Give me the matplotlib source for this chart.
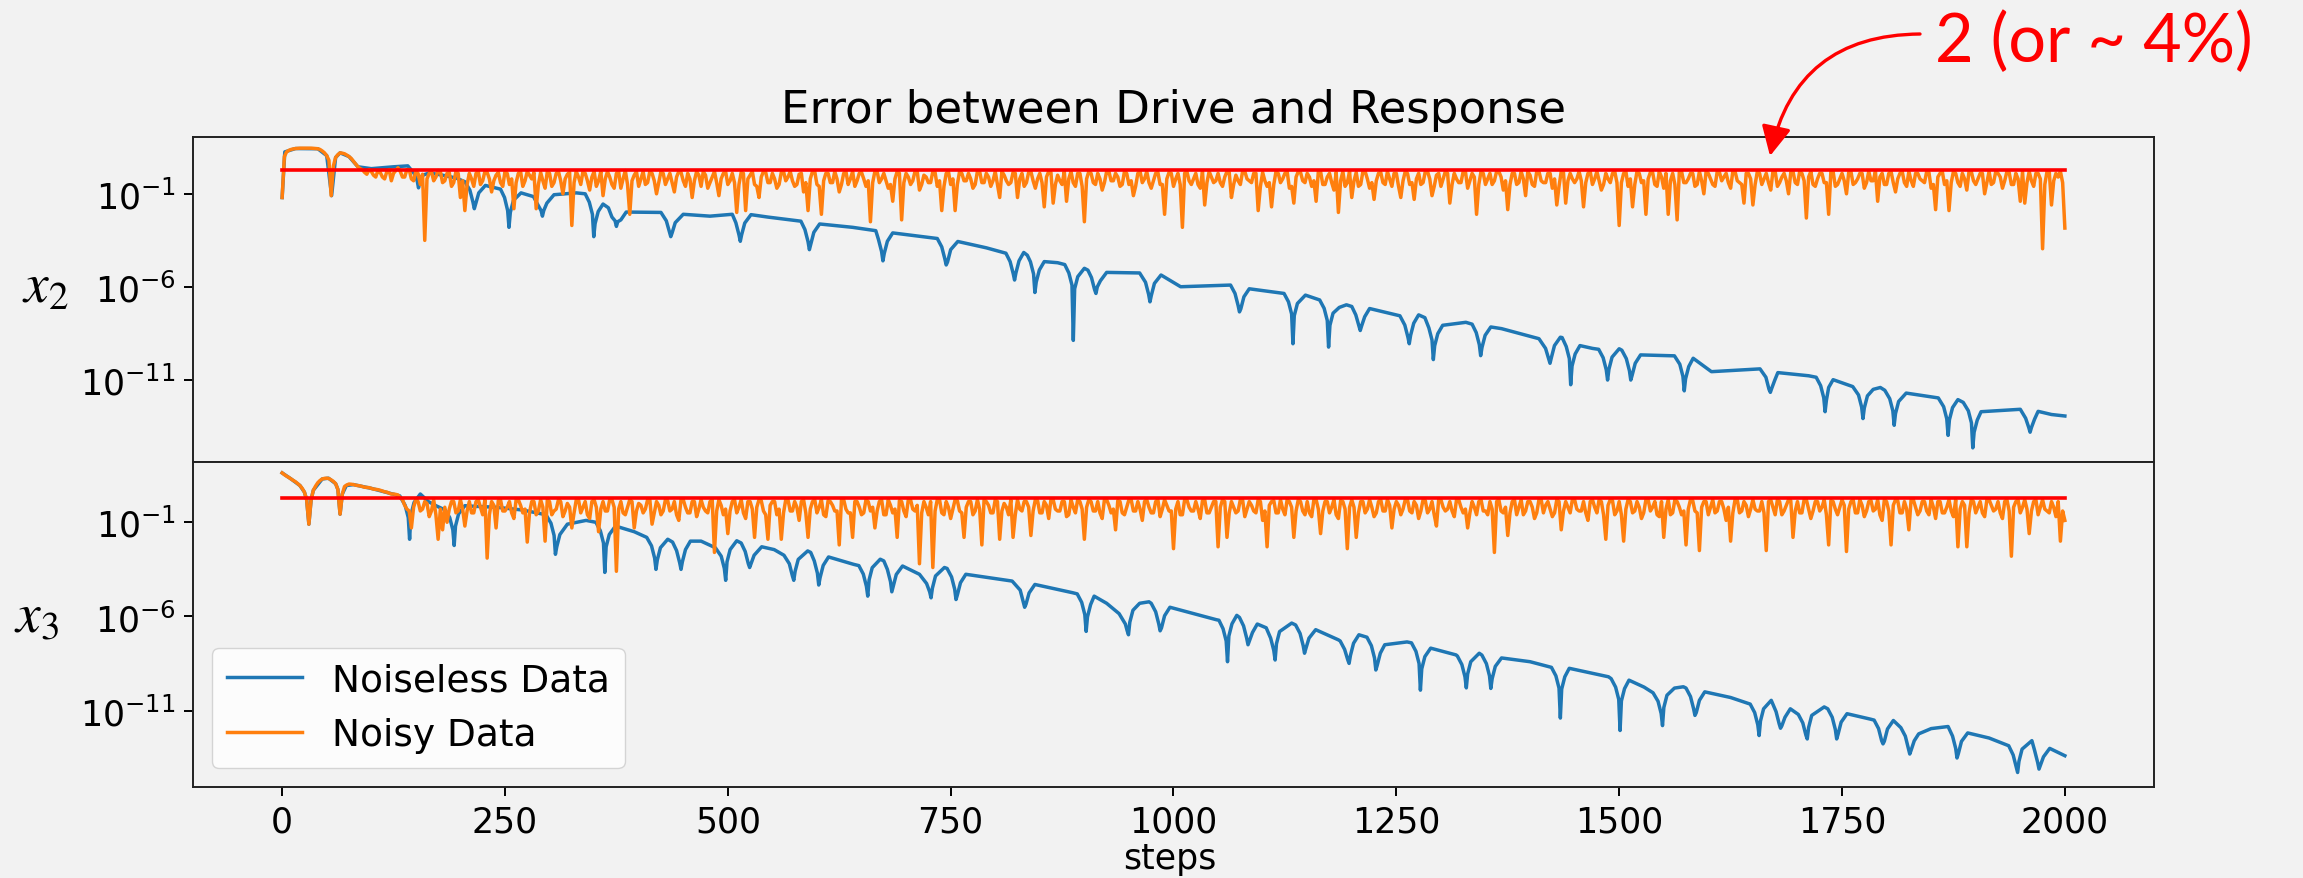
import numpy as np
import matplotlib
matplotlib.use("Agg")
import matplotlib.pyplot as plt
from matplotlib.patches import FancyArrowPatch

# ---- data (log10 of the error) ----
# noisy runs: one value every 5 steps (0, 5, ..., 2000)
noisy_x2_log = [
    -1.2, 1.25, 1.38, 1.43, 1.45, 1.45, 1.45, 1.44, 1.42, 1.3, 1.05, -1.1, 0.95, 1.2,
    1.15, 1.0, 0.75, 0.45, 0.3, 0.05, 0.2, -0.1, 0.15, -0.2, 0.3, 0.1, 0.4,
    -0.1, 0.3, -0.2, 0.2, -0.5, -3.5, 0.1, -0.3, 0.25, -0.4, 0.1, -0.6, 0.2, -1.2,
    -1.9, 0.1, -0.6, 0.2, -0.3, 0.15, -0.9, 0.0, -0.4, 0.2,
    -0.5, -1.8, 0.1, -0.6, 0.2, -0.2, -1.8, 0.15, -0.7, 0.1,
    -0.4, 0.2, -1.0, 0.05, -2.7, 0.2, -0.5, 0.1, -0.8, 0.2,
    -0.3, -1.1, 0.2, -0.5, 0.1, -0.7, 0.25, -2.1, 0.0, -0.6,
    0.2, -0.4, 0.1, -1.0, 0.2, -0.5, 0.1, -0.9, 0.2, -0.3,
    0.1, -1.2, 0.2, -0.6, 0.0, -0.4, 0.2, -1.1, 0.1, -0.5,
    0.1, -2.0, 0.15, -1.9, 0.0, -0.5, -1.2, 0.2, -0.4, 0.1,
    -0.7, 0.15, -0.3, 0.2, -0.6, 0.05, -0.9, -1.9, 0.2, -0.5,
    -2.1, 0.1, -0.4, 0.2, -0.9, 0.1, -0.5, 0.2, -0.3, 0.15,
    -0.6, -2.5, 0.2, -0.4, 0.1, -0.7, -1.4, 0.2, -2.4, 0.1,
    -0.5, 0.2, -0.8, 0.0, -0.4, 0.2, -0.6, -1.9, 0.1, -0.5,
    -1.9, 0.2, -0.3, 0.1, -0.7, 0.2, -0.4, 0.1, -0.6, 0.2,
    -1.2, 0.0, -0.5, 0.15, -1.2, 0.1, -0.4, 0.2, -0.7, 0.1,
    -1.7, 0.2, -1.5, 0.0, -0.5, -1.4, 0.2, -0.6, 0.1, -2.5,
    0.2, -0.4, 0.1, -0.8, 0.2, -0.3, 0.1, -0.6, 0.2, -0.5,
    -1.1, 0.1, -0.4, 0.2, -0.7, 0.1, -0.5, -2.1, 0.15, -0.6,
    0.1, -2.8, 0.2, -0.5, 0.1, -0.7, -1.6, 0.2, -0.4, 0.1,
    -0.6, 0.2, -1.2, 0.0, -0.5, 0.2, -0.3, 0.1, -1.9, 0.15,
    -0.6, -1.7, 0.2, -0.4, 0.1, -0.7, -1.5, 0.2, -0.3, 0.1,
    -0.6, -1.4, 0.2, -0.5, 0.1, -0.8, -2.0, 0.2, -0.4, -1.2,
    0.15, -0.5, 0.2, -0.7, -1.3, 0.1, -0.4, 0.2, -0.6, 0.1,
    -1.2, 0.2, -0.5, -1.3, 0.1, -0.4, 0.2, -1.1, 0.0, -0.6,
    0.2, -1.5, 0.1, -0.4, 0.2, -0.7, 0.1, -2.1, 0.2, -0.5,
    0.1, -0.3, 0.2, -0.8, -1.85, 0.1, -0.5, 0.2, -1.1, 0.0,
    -0.6, 0.2, -0.4, 0.1, -0.7, -1.6, 0.2, -1.5, 0.1, -0.4,
    0.2, -1.7, 0.1, -0.5, 0.2, -0.8, 0.1, -0.4, 0.2, -2.7,
    0.1, -0.6, -1.7, 0.2, -0.4, -2.1, 0.15, -0.5, 0.2, -0.7,
    -2.1, 0.1, -2.4, 0.2, -0.4, 0.1, -0.6, 0.2, -1.0, 0.1,
    -0.5, 0.2, -0.3, 0.1, -0.7, 0.2, -0.4, -1.5, 0.1, -1.6,
    0.2, -0.5, 0.1, -0.8, 0.2, -0.4, 0.1, -1.0, 0.2, -0.5,
    0.1, -2.3, 0.2, -0.6, 0.1, -0.4, -2.1, 0.2, -0.5, 0.1,
    -1.0, 0.2, -0.4, 0.1, -0.7, 0.2, -0.3, -1.4, 0.1, -0.5,
    0.2, -0.9, 0.1, -0.4, 0.2, -0.6, 0.1, -0.3, 0.2, -0.7,
    -1.85, 0.1, -0.5, -1.9, 0.2, -0.4, 0.1, -0.8, 0.2, -0.5,
    0.1, -1.0, 0.2, -0.4, 0.1, -0.7, 0.2, -0.5, 0.1, -1.4,
    -1.5, 0.2, -0.6, 0.1, -3.95, 0.2, -1.6, 0.1, 0.2, -2.84,
]
# values half way between (2.5, 7.5, ..., 1997.5)
noisy_x2_mid_log = [
    1.0, 1.33, 1.41, 1.44, 1.45, 1.45, 1.45, 1.43, 1.38, 1.2, 0.8, 0.5, 1.1,
    1.18, 1.08, 0.9, 0.6, 0.35, 0.15, 0.3, 0.0, 0.25, -0.1, 0.2, -0.3, 0.25,
    0.2, -0.1, 0.3, -0.3, 0.1, 0.05, -0.2, 0.2, -0.1, 0.2, -0.3, 0.15, -0.4, 0.1,
    -0.3, -0.5, -0.2, 0.1, -0.5, 0.2, -0.2, -0.3, 0.15, -0.6,
    0.1, -0.2, -0.4, 0.2, -0.3, 0.0, 0.15, -0.5, -0.3, 0.2,
    -0.6, 0.1, -0.3, -0.2, 0.15, -0.4, -0.1, 0.2, -0.3, -0.1,
    -0.6, 0.2, -0.2, -0.1, -0.7, 0.2, -0.2, -0.5, -0.3, 0.2,
    -0.2, -0.5, 0.2, -0.3, -0.4, 0.1, -0.2, -0.4, -0.1, 0.15,
    -0.6, -0.2, -0.3, 0.0, 0.2, -0.7, -0.1, -0.4, -0.2, 0.2,
    -0.3, -0.4, -0.5, 0.1, -0.2, 0.2, -0.6, -0.1, 0.15, -0.4,
    -0.2, -0.5, 0.2, -0.1, -0.3, -0.5, 0.1, -0.4, -0.2, 0.2,
    -0.6, -0.3, 0.1, -0.4, -0.2, -0.5, 0.2, -0.2, -0.6, 0.1,
    -0.2, -0.3, -0.4, 0.2, -0.2, -0.3, -0.5, -0.2, 0.1, -0.4,
    -0.1, -0.3, 0.2, -0.5, -0.1, -0.4, 0.15, -0.3, -0.6, 0.2,
    -0.2, -0.5, 0.1, -0.3, -0.2, -0.5, 0.2, -0.4, -0.1, -0.3,
    -0.5, 0.2, -0.3, -0.4, 0.1, -0.2, -0.6, 0.15, -0.3, -0.2,
    -0.4, -0.1, 0.15, -0.5, -0.3, 0.2, -0.2, -0.4, 0.1, -0.6,
    -0.2, 0.1, -0.5, -0.2, -0.4, 0.2, -0.3, -0.1, -0.5, 0.1,
    -0.3, -0.6, 0.2, -0.2, -0.4, -0.3, 0.15, -0.5, -0.2, 0.1,
    -0.2, -0.5, 0.1, -0.3, -0.2, -0.5, 0.2, -0.4, -0.1, -0.3,
    -0.4, -0.1, 0.15, -0.5, -0.3, 0.2, -0.2, -0.4, 0.1, -0.6,
    -0.3, -0.4, -0.5, 0.1, -0.2, 0.2, -0.6, -0.1, 0.15, -0.4,
    -0.1, -0.3, 0.2, -0.5, -0.1, -0.4, 0.15, -0.3, -0.6, 0.2,
    -0.3, -0.6, 0.2, -0.2, -0.4, -0.3, 0.15, -0.5, -0.2, 0.1,
    -0.6, -0.3, 0.1, -0.4, -0.2, -0.5, 0.2, -0.2, -0.6, 0.1,
    -0.2, 0.1, -0.5, -0.2, -0.4, 0.2, -0.3, -0.1, -0.5, 0.1,
    -0.2, -0.5, 0.2, -0.1, -0.3, -0.5, 0.1, -0.4, -0.2, 0.2,
    -0.5, 0.2, -0.3, -0.4, 0.1, -0.2, -0.6, 0.15, -0.3, -0.2,
    -0.2, -0.3, -0.4, 0.2, -0.2, -0.3, -0.5, -0.2, 0.1, -0.4,
    -0.4, 0.2, -0.2, -0.5, 0.1, -0.3, -0.2, 0.15, -0.6, -0.1,
    0.1, -0.3, -0.5, 0.2, -0.4, -0.2, 0.1, -0.5, -0.3, 0.2,
    -0.2, -0.6, 0.15, -0.1, -0.4, 0.2, -0.3, -0.5, 0.1, -0.2,
    -0.5, 0.1, -0.2, -0.4, 0.2, -0.6, -0.1, -0.3, 0.15, -0.4,
    0.2, -0.3, -0.1, -0.5, -0.2, 0.1, -0.4, 0.2, -0.6, -0.2,
    -0.3, 0.15, -0.5, -0.2, 0.1, -0.4, -0.3, 0.2, -0.1, -0.5,
    0.1, -0.4, -0.2, 0.2, -0.6, -0.3, 0.1, -0.2, -0.4, 0.15,
    -0.5, -0.1, 0.2, -0.3, -0.4, 0.1, -0.6, -0.2, 0.2, -0.3,
    -0.2, 0.1, -0.4, -0.5, 0.2, -0.1, -0.3, 0.15, -0.5, -0.2,
    0.2, -0.4, -0.3, 0.1, -0.2, -0.5, 0.2, -0.3, -0.1, -0.4,
]

noisy_x3_log = [
    1.62, 1.45, 1.3, 1.15, 0.95, 0.6, -1.1, 0.7, 1.1, 1.3, 1.34, 1.25, 1.05, -0.57,
    0.9, 1.03, 1.0, 0.95, 0.9, 0.85, 0.8, 0.75, 0.7, 0.62, 0.55, 0.5, 0.45,
    0.2, -0.3, -1.3, 0.2, -0.4, 0.1, -0.7, 0.2, -1.9, -1.4, -1.0, 0.1, -0.5, 0.2,
    -1.2, 0.1, -0.5, 0.2, -0.6, -2.9, 0.1, -1.3, 0.2, -0.4,
    0.1, -0.8, 0.2, -0.5, -2.05, 0.1, -0.6, 0.2, -2.0, 0.1,
    -0.4, 0.2, -0.7, 0.0, -1.3, 0.2, -0.5, 0.1, -0.8, 0.2,
    -1.5, 0.1, -0.4, 0.2, -3.6, 0.1, -0.6, 0.2, -1.3, 0.0,
    -0.5, 0.2, -1.1, 0.1, -0.6, 0.2, -0.4, 0.1, -0.9, 0.2,
    -0.5, 0.1, -0.7, 0.2, -0.4, 0.1, -2.6, 0.2, -0.6, -1.6,
    0.1, -0.5, 0.2, -0.8, 0.1, -1.8, 0.2, -0.4, -1.9, 0.1,
    -0.6, -1.9, 0.2, -0.4, 0.1, -0.9, 0.2, -1.8, 0.1, -0.5,
    0.2, -0.7, 0.1, -0.4, -2.2, 0.2, -0.5, -1.8, 0.1, -0.6,
    0.2, -0.4, -1.3, 0.1, -0.6, 0.2, -0.5, -1.8, 0.1, -0.7,
    0.2, -0.4, -3.2, 0.1, -0.6, -3.4, 0.2, -0.5, 0.1, -0.8,
    0.2, -0.4, -1.8, 0.1, -0.6, 0.2, -2.2, 0.1, -0.5, 0.2,
    -1.9, 0.0, -0.6, -1.8, 0.2, -0.4, 0.1, -1.7, 0.2, -0.5,
    0.1, -0.8, 0.2, -0.4, 0.1, -0.7, 0.2, -0.5, 0.1, -1.9,
    0.2, -0.4, 0.1, -0.8, 0.2, -0.5, -1.4, 0.1, -0.6, 0.2,
    -0.4, 0.1, -0.9, 0.2, -0.5, 0.1, -0.7, 0.2, -0.4, -2.4,
    0.1, -0.6, 0.2, -0.4, 0.1, -0.8, 0.2, -0.5, 0.1, -2.3,
    0.2, -1.8, 0.1, -0.5, 0.2, -0.7, 0.1, -0.4, 0.2, -0.9,
    -2.3, 0.1, -0.5, 0.2, -0.6, 0.1, -1.8, 0.2, -0.4, 0.1,
    -0.7, 0.2, -1.6, 0.1, -0.5, 0.2, -0.8, 0.1, -2.4, 0.2,
    -1.8, 0.1, -0.5, 0.2, -0.7, 0.1, -0.4, 0.2, -1.3, 0.1,
    -0.6, 0.2, -0.4, 0.1, -0.8, 0.2, -0.5, 0.1, -1.2, 0.2,
    -0.4, 0.1, -0.7, 0.2, -0.5, -1.3, 0.1, -0.6, 0.2, -0.4,
    0.1, -2.6, 0.2, -0.5, -1.7, 0.1, -0.6, 0.2, -0.4, 0.1,
    -0.8, 0.2, -0.5, 0.1, -0.7, 0.2, -1.4, 0.1, -0.5, 0.2,
    -0.4, 0.1, -0.9, 0.2, -0.5, 0.1, -1.9, 0.2, -0.6, 0.1,
    -2.0, 0.2, -0.5, 0.1, -0.8, 0.2, -0.4, 0.1, -0.7, -1.8,
    0.2, -0.5, 0.1, -0.6, -2.2, 0.2, -0.4, -2.5, 0.1, -0.6,
    0.2, -0.4, 0.1, -0.9, -2.0, 0.2, -0.5, 0.1, -0.7, 0.2,
    -0.4, 0.1, -2.5, 0.2, -0.6, 0.1, -0.4, 0.2, -1.8, 0.1,
    -0.5, 0.2, -0.8, 0.1, -0.4, 0.2, -2.2, 0.1, -0.6, 0.2,
    -2.55, 0.1, -0.5, 0.2, -0.7, 0.1, -0.4, 0.2, -0.9, 0.1,
    -2.2, 0.2, -0.5, 0.1, -1.4, 0.2, -0.6, 0.1, -0.4, 0.2,
    -0.8, 0.1, -0.5, 0.2, -0.7, -2.3, 0.1, -2.3, 0.2, -0.5,
    0.1, -0.7, 0.2, -0.4, 0.1, -0.8, 0.2, -2.8, 0.1, -0.5,
    0.2, -1.6, 0.1, -0.6, 0.2, -0.4, 0.1, -0.7, -2.0, -0.9,
]
noisy_x3_mid_log = [
    1.53, 1.38, 1.22, 1.05, 0.8, 0.2, 0.2, 0.92, 1.22, 1.33, 1.32, 1.17, 0.75,
    0.5, 0.98, 1.02, 0.97, 0.93, 0.86, 0.84, 0.76, 0.73, 0.66, 0.6, 0.5, 0.48,
    0.3, -0.1, -0.4, -0.2, 0.1, -0.3, 0.0, -0.4, -0.6, -0.3, -0.2, -0.3, 0.1, -0.4,
    -0.3, -0.4, -0.5, 0.1, -0.2, 0.2, -0.6, -0.1, 0.15, -0.4,
    -0.2, -0.5, 0.2, -0.1, -0.3, -0.5, 0.1, -0.4, -0.2, 0.2,
    -0.6, -0.3, 0.1, -0.4, -0.2, -0.5, 0.2, -0.2, -0.6, 0.1,
    -0.2, -0.3, -0.4, 0.2, -0.2, -0.3, -0.5, -0.2, 0.1, -0.4,
    -0.1, -0.3, 0.2, -0.5, -0.1, -0.4, 0.15, -0.3, -0.6, 0.2,
    -0.2, -0.5, 0.1, -0.3, -0.2, -0.5, 0.2, -0.4, -0.1, -0.3,
    -0.4, 0.2, -0.2, -0.5, 0.1, -0.3, -0.2, 0.15, -0.6, -0.1,
    0.1, -0.3, -0.5, 0.2, -0.4, -0.2, 0.1, -0.5, -0.3, 0.2,
    -0.2, -0.6, 0.15, -0.1, -0.4, 0.2, -0.3, -0.5, 0.1, -0.2,
    -0.5, 0.1, -0.2, -0.4, 0.2, -0.6, -0.1, -0.3, 0.15, -0.4,
    0.2, -0.3, -0.1, -0.5, -0.2, 0.1, -0.4, 0.2, -0.6, -0.2,
    -0.3, 0.15, -0.5, -0.2, 0.1, -0.4, -0.3, 0.2, -0.1, -0.5,
    0.1, -0.4, -0.2, 0.2, -0.6, -0.3, 0.1, -0.2, -0.4, 0.15,
    -0.5, -0.1, 0.2, -0.3, -0.4, 0.1, -0.6, -0.2, 0.2, -0.3,
    -0.2, 0.1, -0.4, -0.5, 0.2, -0.1, -0.3, 0.15, -0.5, -0.2,
    0.2, -0.4, -0.3, 0.1, -0.2, -0.5, 0.2, -0.3, -0.1, -0.4,
    -0.3, -0.6, 0.2, -0.2, -0.4, -0.3, 0.15, -0.5, -0.2, 0.1,
    -0.2, 0.1, -0.5, -0.2, -0.4, 0.2, -0.3, -0.1, -0.5, 0.1,
    -0.4, -0.1, 0.15, -0.5, -0.3, 0.2, -0.2, -0.4, 0.1, -0.6,
    -0.5, 0.2, -0.3, -0.4, 0.1, -0.2, -0.6, 0.15, -0.3, -0.2,
    -0.2, -0.5, 0.1, -0.3, -0.2, -0.5, 0.2, -0.4, -0.1, -0.3,
    -0.1, -0.3, 0.2, -0.5, -0.1, -0.4, 0.15, -0.3, -0.6, 0.2,
    -0.2, -0.3, -0.4, 0.2, -0.2, -0.3, -0.5, -0.2, 0.1, -0.4,
    -0.6, -0.3, 0.1, -0.4, -0.2, -0.5, 0.2, -0.2, -0.6, 0.1,
    -0.2, -0.5, 0.2, -0.1, -0.3, -0.5, 0.1, -0.4, -0.2, 0.2,
    -0.3, -0.4, -0.5, 0.1, -0.2, 0.2, -0.6, -0.1, 0.15, -0.4,
    -0.6, -0.3, 0.1, -0.4, -0.2, -0.5, 0.2, -0.2, -0.6, 0.1,
    -0.3, -0.6, 0.2, -0.2, -0.4, -0.3, 0.15, -0.5, -0.2, 0.1,
    -0.2, -0.5, 0.1, -0.3, -0.2, -0.5, 0.2, -0.4, -0.1, -0.3,
    -0.3, -0.4, -0.5, 0.1, -0.2, 0.2, -0.6, -0.1, 0.15, -0.4,
    -0.5, 0.2, -0.3, -0.4, 0.1, -0.2, -0.6, 0.15, -0.3, -0.2,
    -0.1, -0.3, 0.2, -0.5, -0.1, -0.4, 0.15, -0.3, -0.6, 0.2,
    -0.4, -0.1, 0.15, -0.5, -0.3, 0.2, -0.2, -0.4, 0.1, -0.6,
    -0.2, 0.1, -0.5, -0.2, -0.4, 0.2, -0.3, -0.1, -0.5, 0.1,
    -0.2, -0.5, 0.2, -0.1, -0.3, -0.5, 0.1, -0.4, -0.2, 0.2,
    -0.2, -0.3, -0.4, 0.2, -0.2, -0.3, -0.5, -0.2, 0.1, -0.4,
]

# noiseless runs: (step, log10 error) read along the curve and its dips
clean_x2 = [
    (0, -1.2), (3, 1.25), (15, 1.43), (40, 1.42), (50, 1.05), (55.5, -1.1), (60, 0.95),
    (65, 1.2), (75, 1.0), (85, 0.45), (100, 0.35), (125, 0.45), (141, 0.5),
    (148, 0.1), (151.5, -0.3), (153, -0.68), (154.5, -0.35), (158, 0.0), (165, 0.12),
    (180, 0.0), (195, -0.15), (205, -0.35),
    (210.6, -0.8), (214.1, -1.45), (215.6, -1.8), (217.1, -1.55), (220.6, -0.95), (228, -0.55), (245, -0.75),
    (249.5, -1.2), (253, -1.9), (254.5, -2.8), (256, -2.0), (259.5, -1.35), (268, -0.95), (282, -1.15),
    (287, -1.6), (290.5, -1.9), (292, -2.2), (293.5, -1.9), (297, -1.5), (305, -1.05), (330, -0.95), (340, -1.0),
    (344.6, -1.45), (348.1, -2.1), (349.6, -3.3), (351.1, -2.6), (354.6, -1.95), (360, -1.55), (366, -1.75),
    (370, -2.25), (373.5, -2.45), (375, -2.75), (376.5, -2.5), (380, -2.4), (386, -1.98), (425, -2.0),
    (431, -2.45), (434.5, -3.05), (436, -3.3), (437.5, -3.1), (441, -2.55), (450, -2.1), (480, -2.2), (505, -2.1),
    (509, -2.55), (512.5, -3.2), (514, -3.55), (515.5, -3.2), (519, -2.57), (526, -2.12), (545, -2.25), (582, -2.47),
    (586.5, -2.92), (590, -3.57), (591.5, -4.0), (593, -3.72), (596.5, -3.07), (603, -2.62), (640, -2.8), (666, -2.98),
    (669, -3.45), (672.5, -4.1), (674, -4.6), (675.5, -4.2), (679, -3.55), (685, -3.1), (735, -3.4),
    (740, -3.85), (743.5, -4.5), (745, -4.82), (746.5, -4.66), (750, -4.0), (758, -3.56), (790, -3.9), (812, -4.19),
    (816.7, -4.64), (820.2, -5.29), (821.7, -5.63), (823.2, -5.25), (826.7, -4.6), (832, -4.15), (836, -4.3),
    (839.5, -4.65), (843, -5.3), (844.5, -6.3), (846, -5.74), (849.5, -5.09), (855, -4.64), (870, -4.7), (878, -4.8),
    (882.6, -5.25), (886.1, -5.9), (887.6, -8.87), (889.1, -6.1), (892.6, -5.45), (900, -5.0), (904, -5.1),
    (908, -5.5), (911.5, -6.15), (913, -6.35), (914.5, -6.0), (918, -5.67), (925, -5.22), (962, -5.25),
    (968.6, -5.75), (972.1, -6.4), (973.6, -6.8), (975.1, -6.46), (978.6, -5.81), (986, -5.36), (1008, -5.99), (1064, -5.9),
    (1069, -6.35), (1072.5, -7.0), (1074, -7.34), (1075.5, -7.18), (1079, -6.53), (1085, -6.1), (1124, -6.35),
    (1129, -6.8), (1132.5, -7.45), (1134, -9.05), (1135.5, -7.54), (1139, -6.89), (1148, -6.44), (1164, -6.7),
    (1169, -7.15), (1172.5, -7.8), (1174, -9.23), (1175.5, -8.06), (1179, -7.41), (1186, -7.1), (1194, -6.96), (1200, -7.05),
    (1204.5, -7.5), (1208, -8.1), (1209.5, -8.34), (1211, -8.1), (1214.5, -7.6), (1220, -7.16), (1254, -7.55),
    (1259.5, -8.05), (1263, -8.7), (1264.5, -9.05), (1266, -8.6), (1269.5, -7.95), (1275, -7.5), (1282, -7.65),
    (1286.5, -8.2), (1290, -8.85), (1291.5, -9.9), (1293, -9.16), (1296.5, -8.51), (1302, -8.06), (1328, -7.9), (1335, -8.0),
    (1339.6, -8.45), (1343.1, -9.1), (1344.6, -9.69), (1346.1, -9.25), (1349.6, -8.6), (1356, -8.15), (1368, -8.24), (1410, -8.78),
    (1417.4, -9.3), (1420.9, -9.85), (1422.4, -10.1), (1423.9, -9.8), (1427.4, -9.15), (1434, -8.7), (1436, -8.72),
    (1440.6, -9.2), (1444.1, -9.85), (1445.6, -11.25), (1447.1, -10.25), (1450.6, -9.6), (1456, -9.15), (1470, -9.3), (1477, -9.35),
    (1482, -9.8), (1485.5, -10.45), (1487, -11.0), (1488.5, -10.42), (1492, -9.77), (1500, -9.32), (1503, -9.4),
    (1508, -9.85), (1511.5, -10.5), (1513, -11.0), (1514.5, -10.75), (1518, -10.1), (1524, -9.65), (1562, -9.7),
    (1568, -10.15), (1571.5, -10.8), (1573, -11.58), (1574.5, -10.93), (1578, -10.28), (1583, -9.83), (1603.5, -10.55), (1658, -10.4),
    (1664.6, -10.85), (1668.1, -11.5), (1669.6, -11.66), (1671.1, -11.45), (1674.6, -11.0), (1678, -10.6), (1712.6, -10.77), (1721, -10.85),
    (1726, -11.3), (1729.5, -11.95), (1731, -12.7), (1732.5, -12.08), (1735, -11.4), (1740, -10.98), (1762, -11.35),
    (1768.5, -11.8), (1772, -12.45), (1773.5, -13.07), (1775, -12.5), (1778.5, -11.85), (1785, -11.5), (1793, -11.4), (1798, -11.55),
    (1803.5, -12.0), (1807, -12.65), (1808.5, -13.43), (1810, -12.8), (1813.5, -12.15), (1822, -11.7), (1858, -11.96),
    (1864, -12.43), (1867.5, -13.08), (1869, -13.97), (1870.5, -13.13), (1874, -12.48), (1880, -12.05), (1886, -12.2),
    (1891.7, -12.65), (1895.2, -13.3), (1896.7, -14.64), (1898.2, -13.8), (1901.7, -13.15), (1906, -12.7), (1950, -12.57),
    (1956, -13.05), (1959.5, -13.55), (1961, -13.8), (1962.5, -13.55), (1966, -13.1), (1970, -12.68), (1985, -12.85), (2000, -12.93),
]

clean_x3 = [
    (0, 1.62), (10, 1.3), (20, 0.95), (25, 0.6), (27.5, 0.2), (30, -1.1), (32.5, 0.2), (35, 0.7), (45, 1.3),
    (52, 1.34), (60, 1.05), (62.5, 0.75), (65, -0.57), (67.5, 0.5), (72, 0.95), (80, 1.0), (100, 0.8), (120, 0.55), (132, 0.4),
    (138, -0.1), (141.5, -0.75), (143, -1.9), (144.5, -0.6), (148, 0.05), (155, 0.5), (164, 0.1), (173, -0.13), (183, -0.35),
    (188, -0.75), (191.5, -1.4), (193, -2.23), (194.5, -1.2), (198, -0.55), (205, -0.12), (215, -0.15), (240, -0.2), (270, -0.35), (296, -0.6),
    (301.6, -1.05), (305.1, -1.7), (306.6, -2.7), (308.1, -2.3), (311.6, -1.65), (320, -1.1), (341, -0.9), (352, -1.0),
    (357, -1.45), (360.5, -2.1), (362, -3.66), (363.5, -2.3), (367, -1.65), (374, -1.2), (395, -1.5), (409, -1.8),
    (414.4, -2.25), (417.9, -2.9), (419.4, -3.5), (420.9, -3.0), (424.4, -2.35), (432.6, -1.9), (438, -2.05),
    (442.5, -2.5), (446, -3.15), (447.5, -3.5), (449, -3.1), (452.5, -2.45), (458, -2.0), (470, -2.0), (486, -2.35),
    (492.6, -2.8), (496.1, -3.45), (497.6, -4.08), (499.1, -3.1), (502.6, -2.45), (510, -1.98), (515, -2.1),
    (519.5, -2.55), (523, -3.2), (524.5, -3.4), (526, -3.2), (529.5, -2.75), (538, -2.3), (552, -2.45), (563, -2.75),
    (569, -3.2), (572.5, -3.85), (574, -4.08), (575.5, -3.6), (579, -2.97), (589.6, -2.52), (593, -2.6),
    (597, -3.05), (600.5, -3.7), (602, -4.33), (603.5, -3.94), (607, -3.29), (613, -2.84), (641, -3.23), (647, -3.3),
    (652, -3.75), (655.5, -4.4), (657, -4.92), (658.5, -4.06), (662, -3.41), (671, -2.96), (675, -3.05),
    (679, -3.5), (682.5, -4.15), (684, -4.69), (685.5, -4.42), (689, -3.77), (696, -3.32), (715, -3.76),
    (723, -4.25), (726.5, -4.7), (728, -5.01), (729.5, -4.5), (733, -3.85), (743, -3.4), (746, -3.45),
    (751, -3.9), (754.5, -4.55), (756, -5.1), (757.5, -4.86), (761, -4.21), (767, -3.76), (819, -4.12),
    (828, -4.6), (831.5, -5.25), (833, -5.51), (834.5, -5.35), (838, -4.75), (844.5, -4.3), (887, -4.74), (892, -4.8),
    (897, -5.25), (900.5, -5.9), (902, -6.79), (903.5, -6.02), (907, -5.37), (911, -4.92), (925, -5.3), (939, -5.85),
    (946, -6.4), (948, -6.75), (949.5, -6.97), (951, -6.3), (954.5, -5.67), (962, -5.3), (972.5, -5.22), (975, -5.3),
    (980, -5.75), (983.5, -6.4), (985, -6.76), (986.5, -6.61), (990, -5.96), (996, -5.51), (1048, -6.17), (1051, -6.2),
    (1055.6, -6.65), (1059.1, -7.3), (1060.6, -8.4), (1062.1, -7.04), (1065.6, -6.39), (1071, -5.94), (1074, -6.05),
    (1078.6, -6.5), (1082.1, -7.15), (1083.6, -7.5), (1085.1, -7.3), (1088.6, -6.85), (1094, -6.4), (1104, -6.6),
    (1109, -7.15), (1112.5, -7.8), (1114, -8.31), (1115.5, -7.45), (1119, -6.8), (1132.6, -6.35), (1137, -6.45),
    (1142, -6.9), (1145.5, -7.55), (1147, -7.95), (1148.5, -7.7), (1152, -7.15), (1159.5, -6.7), (1185, -7.24), (1187, -7.3),
    (1192, -7.75), (1195.5, -8.3), (1197, -8.49), (1198.5, -8.07), (1202, -7.42), (1208, -6.97), (1217, -7.1),
    (1222, -7.55), (1225.5, -8.2), (1227, -8.84), (1228.5, -8.6), (1232, -7.95), (1237, -7.5), (1262, -7.35), (1267, -7.4),
    (1272, -7.85), (1275.5, -8.5), (1277, -9.91), (1278.5, -8.78), (1282, -8.13), (1288.5, -7.68), (1317, -8.04), (1318.5, -8.1),
    (1323.5, -8.55), (1327, -9.2), (1328.5, -9.79), (1330, -9.05), (1333.5, -8.4), (1343, -7.95), (1346, -8.05),
    (1351, -8.5), (1354.5, -9.15), (1356, -9.82), (1357.5, -9.3), (1361, -8.65), (1368, -8.2), (1400, -8.4), (1424, -8.7),
    (1429, -9.15), (1432.5, -9.8), (1434, -11.39), (1435.5, -9.85), (1439, -9.2), (1444, -8.75), (1488, -9.2), (1491, -9.3),
    (1496, -9.75), (1499.5, -10.4), (1501, -12.05), (1502.5, -10.48), (1506, -9.83), (1511, -9.38), (1528, -9.75), (1538, -10.05),
    (1543.6, -10.5), (1547.1, -11.15), (1548.6, -11.79), (1550.1, -10.83), (1553.6, -10.18), (1562, -9.8), (1572, -9.73), (1575, -9.8),
    (1580, -10.25), (1583.5, -10.9), (1585, -11.25), (1586.5, -11.1), (1590, -10.45), (1596, -10.0), (1625, -10.3), (1647, -10.65),
    (1652, -11.1), (1655.5, -11.75), (1657, -12.32), (1658.5, -11.55), (1662, -10.9), (1670.6, -10.45),
    (1676, -11.05), (1679.5, -11.7), (1681, -11.93), (1682.5, -11.8), (1686, -11.35), (1692, -10.9), (1701, -11.2),
    (1706, -11.65), (1709.5, -12.3), (1711, -12.5), (1712.5, -11.9), (1716, -11.25), (1730, -10.8), (1734, -10.9),
    (1739, -11.35), (1742.5, -12.0), (1744, -12.5), (1745.5, -12.26), (1749, -11.61), (1755.6, -11.16), (1782, -11.45), (1786, -11.5),
    (1791, -11.95), (1794.5, -12.6), (1796, -12.76), (1797.5, -12.62), (1801, -11.97), (1807.6, -11.52), (1816, -11.9),
    (1821, -12.35), (1824.5, -13.0), (1826, -13.3), (1827.5, -13.1), (1831, -12.6), (1836, -12.23), (1850, -11.95), (1869, -11.84),
    (1874, -12.35), (1877.5, -13.0), (1879, -13.51), (1880.5, -13.28), (1884, -12.63), (1891, -12.18), (1915, -12.45), (1937, -12.86),
    (1942, -13.35), (1945.5, -14.0), (1947, -14.28), (1948.5, -13.69), (1952, -13.04), (1963, -12.59),
    (1966, -13.1), (1969.5, -13.75), (1971, -14.1), (1972.5, -13.9), (1976, -13.45), (1983, -13.0), (2000, -13.39),
]

threshold = 2.0
threshold_steps = [0, 2000]
series_labels = ["Noiseless Data", "Noisy Data"]
row_labels = [r"$x_2$", r"$x_3$"]
xtick_values = [0, 250, 500, 750, 1000, 1250, 1500, 1750, 2000]
ytick_values = [1e-1, 1e-6, 1e-11]


def merge_noisy(main, mid):
    # main values sit on multiples of 5, mid values half way between
    xs, ys = [], []
    for i, v in enumerate(main):
        xs.append(5 * i)
        ys.append(v)
        if i < len(mid) and i < len(main) - 1:
            xs.append(5 * i + 2.5)
            ys.append(mid[i])
    return np.array(xs), np.array(ys)


# ---- figure ----
plt.rcParams["mathtext.fontset"] = "stix"
bg = "#f2f2f2"
W, H = 2303, 879
fig = plt.figure(figsize=(W / 100, H / 100), dpi=100, facecolor=bg)

left = 193 / W
width = (2154 - 193) / W
ax_top = fig.add_axes([left, 1 - 463 / H, width, 325 / H])
ax_bot = fig.add_axes([left, 1 - 788 / H, width, 325 / H], sharex=ax_top)

panels = [
    (ax_top, clean_x2, noisy_x2_log, noisy_x2_mid_log, (10 ** -15.4, 10 ** 2.05)),
    (ax_bot, clean_x3, noisy_x3_log, noisy_x3_mid_log, (10 ** -15.05, 10 ** 2.2)),
]

for ax, clean, noisy, noisy_mid, ylims in panels:
    clean = np.array(clean)
    nx, ny = merge_noisy(noisy, noisy_mid)
    ax.set_facecolor(bg)
    ax.plot(clean[:, 0], 10 ** clean[:, 1], color="#1f77b4", lw=2.5, label=series_labels[0])
    ax.plot(nx, 10 ** ny, color="#ff7f0e", lw=2.5, label=series_labels[1])
    ax.plot(threshold_steps, [threshold, threshold], color="red", lw=2.6)
    ax.set_yscale("log")
    ax.set_ylim(*ylims)
    ax.set_yticks(ytick_values)
    ax.yaxis.set_minor_locator(matplotlib.ticker.NullLocator())
    ax.tick_params(labelsize=25, length=6.5, width=1.4, pad=6)
    for sp in ax.spines.values():
        sp.set_linewidth(1.4)
        sp.set_color("#222222")

ax_top.set_xlim(-100, 2100)
ax_top.set_xticks(xtick_values)
ax_top.tick_params(labelbottom=False)

leg = ax_bot.legend(loc="lower left", fontsize=27, facecolor="white", framealpha=0.8,
                    borderaxespad=0.5)
for line in leg.get_lines():
    line.set_linewidth(2.5)

fig.text(1173.5 / W, 1 - 123 / H, "Error between Drive and Response",
         ha="center", va="baseline", fontsize=32.5)
fig.text(1170 / W, 1 - 869 / H, "steps", ha="center", va="baseline", fontsize=25)
fig.text(22 / W, 1 - 303 / H, row_labels[0], ha="left", va="baseline", fontsize=40)
fig.text(14 / W, 1 - 632 / H, row_labels[1], ha="left", va="baseline", fontsize=40)

# added red note with curved arrow
fig.text(1935 / W, 1 - 62 / H, "2 (or ~ 4%)", ha="left", va="baseline",
         fontsize=48, color="red", family=["Lato", "DejaVu Sans"])
arrow = FancyArrowPatch((1920 / W, 1 - 35 / H), (1770 / W, 1 - 157 / H),
                        transform=fig.transFigure, connectionstyle="arc3,rad=0.4",
                        arrowstyle="-|>,head_length=0.9,head_width=0.45",
                        mutation_scale=20, color="red", lw=2.4,
                        shrinkA=0, shrinkB=0)
fig.patches.append(arrow)

fig.savefig("out.png", dpi=100, facecolor=bg)
